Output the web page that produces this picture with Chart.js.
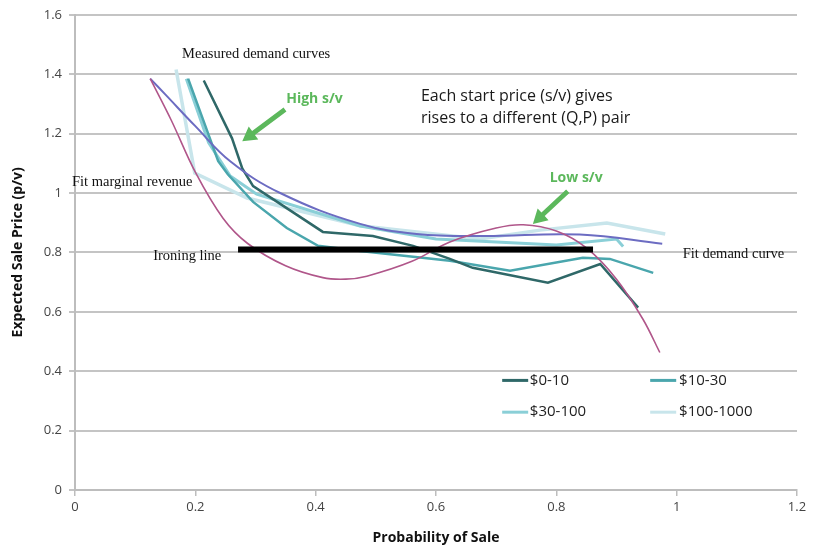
<!DOCTYPE html>
<html><head><meta charset="utf-8">
<script src="https://cdn.jsdelivr.net/npm/chart.js@4"></script>
<style>html,body{margin:0;padding:0;background:#fff}#wrap{width:814px;height:549px}</style>
</head><body><div id="wrap"><canvas id="c" width="814" height="549"></canvas></div>
<script>
// ---- tick values / labels ----
const xTicks = [0, 0.2, 0.4, 0.6, 0.8, 1, 1.2];
const xTickLabels = ["0", "0.2", "0.4", "0.6", "0.8", "1", "1.2"];
const yTicks = [0, 0.2, 0.4, 0.6, 0.8, 1, 1.2, 1.4, 1.6];
const yTickLabels = ["0", "0.2", "0.4", "0.6", "0.8", "1", "1.2", "1.4", "1.6"];

// ---- series ----
const seriesNames = ["$0-10", "$10-30", "$30-100", "$100-1000"];

const s0_10X = [0.214, 0.261, 0.278, 0.296, 0.412, 0.495, 0.562, 0.623, 0.661, 0.786, 0.873, 0.936];
const s0_10Y = [1.379, 1.184, 1.083, 1.023, 0.869, 0.855, 0.822, 0.778, 0.748, 0.698, 0.761, 0.614];

const s10_30X = [0.188, 0.238, 0.254, 0.296, 0.352, 0.404, 0.474, 0.623, 0.723, 0.844, 0.889, 0.961];
const s10_30Y = [1.385, 1.107, 1.063, 0.970, 0.882, 0.822, 0.805, 0.772, 0.738, 0.782, 0.778, 0.731];

const s30_100X = [0.185, 0.222, 0.258, 0.302, 0.474, 0.600, 0.700, 0.800, 0.900, 0.911];
const s30_100Y = [1.385, 1.170, 1.057, 0.996, 0.889, 0.845, 0.835, 0.825, 0.845, 0.820];

const s100_1000X = [0.168, 0.199, 0.286, 0.474, 0.673, 0.773, 0.884, 0.981];
const s100_1000Y = [1.416, 1.067, 0.983, 0.890, 0.845, 0.875, 0.899, 0.862];

const fitDemandX = [0.125, 0.150, 0.200, 0.258, 0.341, 0.474, 0.568, 0.678, 0.839, 0.976];
const fitDemandY = [1.385, 1.332, 1.225, 1.107, 1.000, 0.896, 0.862, 0.855, 0.860, 0.829];

const fitMRX = [0.125, 0.160, 0.200, 0.246, 0.287, 0.350, 0.412, 0.450, 0.485, 0.560, 0.623, 0.700, 0.745, 0.800, 0.850, 0.900, 0.944, 0.972];
const fitMRY = [1.385, 1.245, 1.070, 0.915, 0.830, 0.755, 0.715, 0.710, 0.720, 0.770, 0.835, 0.882, 0.893, 0.872, 0.815, 0.710, 0.575, 0.463];

const ironX = [0.271, 0.861];
const ironY = [0.81, 0.81];

const colors = ["#2F6868", "#4AA6AD", "#8ACFD7", "#C8E5EB"];
const fitDemandColor = "#6C6CC2";
const fitMRColor = "#B0568A";
const green = "#5CB85C";

const pts = (xs, ys) => xs.map((v, i) => ({x: v, y: ys[i]}));

const datasets = [
  {label: seriesNames[3], data: pts(s100_1000X, s100_1000Y), borderColor: colors[3], borderWidth: 3.5, order: 7},
  {label: seriesNames[2], data: pts(s30_100X, s30_100Y), borderColor: colors[2], borderWidth: 3, order: 6},
  {label: seriesNames[1], data: pts(s10_30X, s10_30Y), borderColor: colors[1], borderWidth: 2.5, order: 5},
  {label: seriesNames[0], data: pts(s0_10X, s0_10Y), borderColor: colors[0], borderWidth: 2.5, order: 4},
  {label: "Fit demand", data: pts(fitDemandX, fitDemandY), borderColor: fitDemandColor, borderWidth: 2, order: 3},
  {label: "Fit MR", data: pts(fitMRX, fitMRY), borderColor: fitMRColor, borderWidth: 1.6, order: 2},
  {label: "Ironing", data: pts(ironX, ironY), borderColor: "#000", borderWidth: 6, borderCapStyle: 'butt', order: 1}
].map(d => Object.assign({showLine: true, pointRadius: 0, fill: false, tension: 0}, d));
datasets[4].tension = 0.4; datasets[5].tension = 0.35;

const legendItems = [0, 1, 2, 3];

function arrow(ctx, x1, y1, x2, y2, color) {
  const ang = Math.atan2(y2 - y1, x2 - x1);
  const len = Math.hypot(x2 - x1, y2 - y1);
  const hl = 14, hw = 8, sw = 2.4;
  ctx.save();
  ctx.translate(x1, y1); ctx.rotate(ang);
  ctx.fillStyle = color;
  ctx.beginPath();
  ctx.moveTo(0, -sw); ctx.lineTo(len - hl, -sw); ctx.lineTo(len - hl, -hw);
  ctx.lineTo(len, 0);
  ctx.lineTo(len - hl, hw); ctx.lineTo(len - hl, sw); ctx.lineTo(0, sw);
  ctx.closePath(); ctx.fill();
  ctx.restore();
}

const annoPlugin = {
  id: 'anno',
  afterDraw(chart) {
    const {ctx, scales: {x, y}} = chart;
    const X = v => x.getPixelForValue(v), Y = v => y.getPixelForValue(v);
    ctx.save();
    ctx.textBaseline = 'middle'; ctx.textAlign = 'left';
    ctx.fillStyle = '#111';
    ctx.font = '14.5px "Liberation Serif", serif';
    ctx.fillText('Measured demand curves', X(0.178), Y(1.469));
    ctx.fillText('Fit marginal revenue', X(-0.005), Y(1.037));
    ctx.fillText('Ironing line', X(0.130), Y(0.788));
    ctx.fillText('Fit demand curve', X(1.010), Y(0.795));
    ctx.fillStyle = '#1a1a1a';
    ctx.font = '16px "Open Sans", sans-serif';
    ctx.fillText('Each start price (s/v) gives', X(0.575), Y(1.325));
    ctx.fillText('rises to a different (Q,P) pair', X(0.575), Y(1.251));
    ctx.fillStyle = green;
    ctx.font = 'bold 14px "Open Sans", sans-serif';
    ctx.fillText('High s/v', X(0.351), Y(1.315));
    ctx.fillText('Low s/v', X(0.789), Y(1.050));
    arrow(ctx, X(0.349), Y(1.281), X(0.278), Y(1.174), green);
    arrow(ctx, X(0.819), Y(1.006), X(0.761), Y(0.896), green);
    const legPos = [
      {sx: 0.710, tx: 0.756, y: 0.369},
      {sx: 0.956, tx: 1.004, y: 0.369},
      {sx: 0.710, tx: 0.756, y: 0.262},
      {sx: 0.956, tx: 1.004, y: 0.262}
    ];
    ctx.font = '15px "Open Sans", sans-serif';
    legendItems.forEach((idx, k) => {
      const p = legPos[k];
      const ds = datasets.find(d => d.label === seriesNames[idx]);
      ctx.strokeStyle = ds.borderColor;
      ctx.lineWidth = 3;
      ctx.beginPath();
      ctx.moveTo(X(p.sx), Y(p.y)); ctx.lineTo(X(p.sx) + 26, Y(p.y));
      ctx.stroke();
      ctx.fillStyle = '#222';
      ctx.fillText(ds.label, X(p.tx), Y(p.y));
    });
    ctx.restore();
  }
};

new Chart(document.getElementById('c'), {
  type: 'scatter',
  data: {datasets},
  options: {
    responsive: false,
    animation: false,
    layout: {padding: {left: 0, right: 17, top: 13, bottom: 0}},
    plugins: {legend: {display: false}, tooltip: {enabled: false}},
    scales: {
      x: {
        type: 'linear', min: 0, max: 1.2,
        afterBuildTicks: s => { s.ticks = xTicks.map(v => ({value: v})); },
        afterFit: s => { s.height = 59; },
        ticks: {
          callback: (v) => xTickLabels[xTicks.findIndex(t => Math.abs(t - v) < 1e-9)],
          color: '#444', font: {family: '"Open Sans", sans-serif', size: 13}, padding: 3, maxRotation: 0
        },
        grid: {drawOnChartArea: false, drawTicks: true, tickLength: 6, color: '#BDBDBD', lineWidth: 1.5},
        border: {color: '#BDBDBD', width: 2},
        title: {display: true, text: 'Probability of Sale', color: '#111',
          font: {family: '"Open Sans", sans-serif', size: 14, weight: 'bold'}, padding: {top: 0, bottom: 3}}
      },
      y: {
        type: 'linear', min: 0, max: 1.6,
        afterBuildTicks: s => { s.ticks = yTicks.map(v => ({value: v})); },
        afterFit: s => { s.width = 75; },
        ticks: {
          callback: (v) => yTickLabels[yTicks.findIndex(t => Math.abs(t - v) < 1e-9)],
          color: '#444', font: {family: '"Open Sans", sans-serif', size: 13}, padding: 7
        },
        grid: {color: '#C4C4C4', lineWidth: 2, tickLength: 6},
        border: {color: '#BDBDBD', width: 2},
        title: {display: true, text: 'Expected Sale Price (p/v)', color: '#111',
          font: {family: '"Open Sans", sans-serif', size: 14, weight: 'bold'}, padding: {top: 10, bottom: 0}}
      }
    }
  },
  plugins: [annoPlugin]
});
</script>
</body></html>
